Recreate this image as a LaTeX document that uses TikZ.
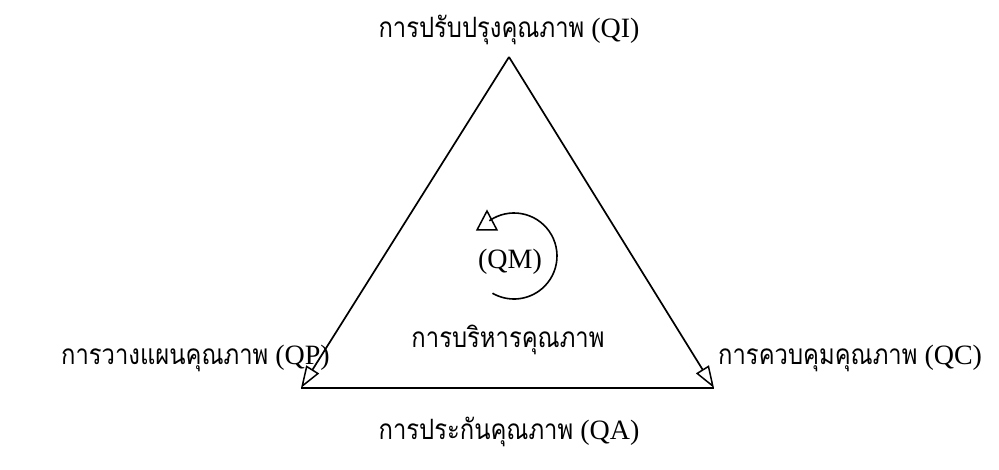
\documentclass[tikz,border=0pt]{standalone}
\usepackage{fontspec}
\setmainfont{Liberation Serif}
\newfontfamily\thaifont[Script=Thai,FakeStretch=0.85]{Loma}
\usetikzlibrary{arrows.meta}
\tikzset{
  lbl/.style={inner sep=0pt, font=\fontsize{28}{32}\selectfont},
  edge/.style={line width=1.7pt, line join=miter},
  tip/.style={-{Triangle[open,length=22pt,width=15pt,line width=1.5pt]}}
}
\newcommand{\thx}[1]{{\thaifont #1}}
\begin{document}
\begin{tikzpicture}[x=1pt,y=-1pt]
\useasboundingbox (0,0) rectangle (999,470);
\coordinate (A) at (509,57);
\coordinate (L) at (301,388);
\coordinate (R) at (714,388);
\draw[edge] (L) -- (R);
\draw[edge,tip] (A) -- (L);
\draw[edge,tip] (A) -- (R);
\node[lbl] (qi) at (509,30) {\thx{การปรับปรุงคุณภาพ} (QI)};
\node[lbl,anchor=east] (qp) at (330,358) {\thx{การวางแผนคุณภาพ} (QP)};
\node[lbl,anchor=west] (qc) at (718,358) {\thx{การควบคุมคุณภาพ} (QC)};
\node[lbl] (qa) at (509,432) {\thx{การประกันคุณภาพ} (QA)};
\node[lbl] (qmt) at (508,340) {\thx{การบริหารคุณภาพ}};
\node[lbl] (qm) at (510,262) {(QM)};
\draw[line width=1.6pt] (514,256) ++(235:43) arc[start angle=235, end angle=480, radius=43];
\draw[line width=1.5pt] (487,211) -- (497,230) -- (477,230) -- cycle;
\end{tikzpicture}
\end{document}
